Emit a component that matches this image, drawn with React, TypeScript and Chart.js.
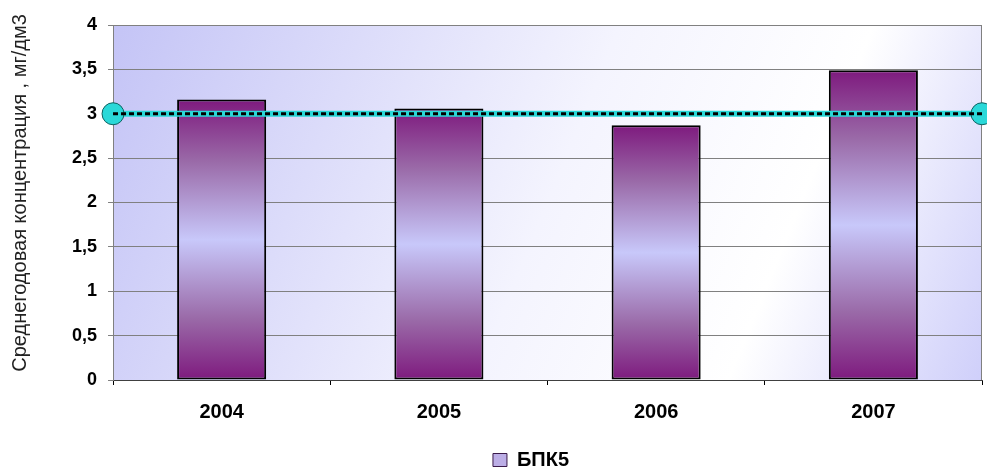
import React, { useEffect, useRef } from "react";
import { Chart, registerables } from "chart.js";

Chart.register(...registerables);

const years = ["2004", "2005", "2006", "2007"];
const bpk5 = [3.16, 3.06, 2.87, 3.49];
const normLine = [3, 3];
const seriesName = "БПК5";
const yTitle = "Среднегодовая концентрация , мг/дм3";

const FONT = "'Liberation Sans', Arial, sans-serif";

const bgPlugin = {
  id: "plotBg",
  beforeDraw(chart: any) {
    const { ctx, chartArea } = chart;
    if (!chartArea) return;
    const { left, top, right, bottom } = chartArea;
    const g = ctx.createLinearGradient(left, top, right, bottom);
    g.addColorStop(0, "#c4c4f6");
    g.addColorStop(0.5, "#f4f4fe");
    g.addColorStop(0.75, "#ffffff");
    g.addColorStop(1, "#cfcffa");
    ctx.save();
    ctx.fillStyle = g;
    ctx.fillRect(left, top, right - left, bottom - top);
    ctx.restore();
  },
  afterLayout(chart: any) {
    const lg = chart.legend;
    if (lg) {
      lg.left += 40;
      lg.right += 40;
    }
  },
  beforeDatasetsDraw(chart: any) {
    const { ctx, chartArea } = chart;
    const { top, right, bottom } = chartArea;
    ctx.save();
    ctx.strokeStyle = "#808080";
    ctx.lineWidth = 1;
    ctx.beginPath();
    ctx.moveTo(Math.round(right) - 0.5, top);
    ctx.lineTo(Math.round(right) - 0.5, bottom);
    ctx.stroke();
    ctx.restore();
  },
  afterDraw(chart: any) {
    const { ctx } = chart;
    ctx.save();
    ctx.translate(20, 193);
    ctx.rotate(-Math.PI / 2);
    ctx.font = `20px ${FONT}`;
    ctx.fillStyle = "#222222";
    ctx.textAlign = "center";
    ctx.textBaseline = "middle";
    ctx.fillText(yTitle, 0, 0);
    ctx.restore();
  },
};

function barGradient(c: any) {
  const chart = c.chart;
  const area = chart.chartArea;
  if (!area || c.type !== "data" || !c.parsed) return "#b8a8e0";
  const ys = chart.scales.y;
  const top = ys.getPixelForValue(c.parsed.y);
  const bottom = ys.getPixelForValue(0);
  const g = chart.ctx.createLinearGradient(0, top, 0, bottom);
  g.addColorStop(0, "#7e1a7e");
  g.addColorStop(0.22, "#9a6aa8");
  g.addColorStop(0.5, "#c8c8fa");
  g.addColorStop(0.78, "#9a6aa8");
  g.addColorStop(1, "#7e1a7e");
  return g;
}

export default function App() {
  const ref = useRef<HTMLCanvasElement>(null);
  useEffect(() => {
    document.body.style.margin = "0";
    const chart = new Chart(ref.current as HTMLCanvasElement, {
      type: "bar",
      data: {
        labels: years,
        datasets: [
          {
            type: "line",
            label: "norm-dash",
            data: normLine.map((v, i) => ({ x: i, y: v })),
            xAxisID: "x2",
            borderColor: "#000000",
            borderWidth: 3,
            borderDash: [5, 3],
            pointRadius: 0,
            clip: false,
            order: 0,
          } as any,
          {
            type: "line",
            label: "norm",
            data: normLine.map((v, i) => ({ x: i, y: v })),
            xAxisID: "x2",
            borderColor: "#2ad8d8",
            borderWidth: 6,
            pointRadius: 11,
            pointBackgroundColor: "#2ad8d8",
            pointBorderColor: "#106060",
            pointBorderWidth: 1,
            clip: false,
            order: 1,
          } as any,
          {
            type: "bar",
            label: seriesName,
            data: bpk5,
            backgroundColor: barGradient,
            borderColor: "#000000",
            borderWidth: 2,
            borderSkipped: false,
            grouped: false,
            categoryPercentage: 0.82,
            barPercentage: 0.5,
            order: 2,
          } as any,
        ],
      },
      options: {
        animation: false,
        responsive: false,
        layout: { autoPadding: false, padding: { top: 25, right: 5, left: 0, bottom: -10 } },
        plugins: {
          tooltip: { enabled: false },
          legend: {
            position: "bottom",
            labels: {
              font: { family: FONT, size: 20, weight: "bold" },
              color: "#000000",
              boxWidth: 14,
              boxHeight: 13,
              padding: 2,
              generateLabels: () => [
                {
                  text: seriesName,
                  fillStyle: "#bcaee6",
                  strokeStyle: "#3a1a4a",
                  lineWidth: 1,
                  datasetIndex: 2,
                  fontColor: "#000000",
                },
              ],
            },
          },
        },
        scales: {
          x: {
            type: "category",
            offset: true,
            grid: {
              display: true,
              offset: true,
              drawOnChartArea: false,
              drawTicks: true,
              tickLength: 5,
              color: "#000000",
            },
            border: { display: true, color: "#404040", width: 1 },
            ticks: {
              font: { family: FONT, size: 20, weight: "bold" },
              color: "#000000",
              padding: 15,
            },
            afterFit: (scale: any) => {
              scale.height += 9;
            },
          },
          x2: {
            type: "linear",
            min: 0,
            max: 1,
            offset: false,
            display: false,
          },
          y: {
            min: 0,
            max: 4,
            ticks: {
              stepSize: 0.5,
              font: { family: FONT, size: 18, weight: "bold" },
              color: "#000000",
              padding: 11,
              callback: (v: any) => String(v).replace(".", ","),
            },
            grid: {
              color: "#808080",
              tickLength: 5,
              lineWidth: 1,
            },
            border: { display: true, color: "#808080", width: 1 },
            afterFit: (scale: any) => {
              scale.width += 61;
            },
          },
        },
      },
      plugins: [bgPlugin],
    });
    return () => chart.destroy();
  }, []);
  return (
    <div style={{ width: 987, height: 470 }}>
      <canvas ref={ref} width={987} height={470} style={{ width: 987, height: 470 }} />
    </div>
  );
}
